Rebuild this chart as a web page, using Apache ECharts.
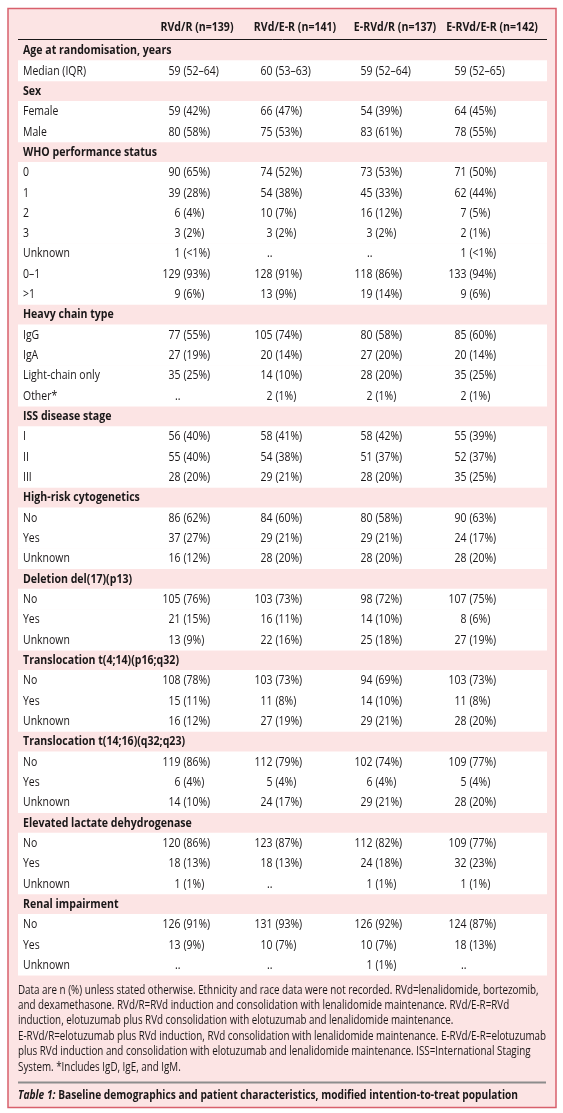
<!DOCTYPE html>
<html><head><meta charset="utf-8">
<script src="https://cdn.jsdelivr.net/npm/echarts@6/dist/echarts.min.js"></script>
<style>html,body{margin:0;padding:0;background:#fff}#c{width:563px;height:1113px}</style>
</head><body><div id="c"></div>
<script>
// ---------- data ----------
const columns = ['RVd/R (n=139)', 'RVd/E-R (n=141)', 'E-RVd/R (n=137)', 'E-RVd/E-R (n=142)'];
const rowLabels = [
  'Age at randomisation, years', 'Median (IQR)',
  'Sex', 'Female', 'Male',
  'WHO performance status', '0', '1', '2', '3', 'Unknown', '0–1', '>1',
  'Heavy chain type', 'IgG', 'IgA', 'Light-chain only', 'Other*',
  'ISS disease stage', 'I', 'II', 'III',
  'High-risk cytogenetics', 'No', 'Yes', 'Unknown',
  'Deletion del(17)(p13)', 'No', 'Yes', 'Unknown',
  'Translocation t(4;14)(p16;q32)', 'No', 'Yes', 'Unknown',
  'Translocation t(14;16)(q32;q23)', 'No', 'Yes', 'Unknown',
  'Elevated lactate dehydrogenase', 'No', 'Yes', 'Unknown',
  'Renal impairment', 'No', 'Yes', 'Unknown'
];
const rowKinds = [
  's','d',
  's','d','d',
  's','d','d','d','d','d','d','d',
  's','d','d','d','d',
  's','d','d','d',
  's','d','d','d',
  's','d','d','d',
  's','d','d','d',
  's','d','d','d',
  's','d','d','d',
  's','d','d','d'
];
const rvdR = [
  null,'59 (52–64)',
  null,'59 (42%)','80 (58%)',
  null,'90 (65%)','39 (28%)','6 (4%)','3 (2%)','1 (<1%)','129 (93%)','9 (6%)',
  null,'77 (55%)','27 (19%)','35 (25%)','..',
  null,'56 (40%)','55 (40%)','28 (20%)',
  null,'86 (62%)','37 (27%)','16 (12%)',
  null,'105 (76%)','21 (15%)','13 (9%)',
  null,'108 (78%)','15 (11%)','16 (12%)',
  null,'119 (86%)','6 (4%)','14 (10%)',
  null,'120 (86%)','18 (13%)','1 (1%)',
  null,'126 (91%)','13 (9%)','..'
];
const rvdER = [
  null,'60 (53–63)',
  null,'66 (47%)','75 (53%)',
  null,'74 (52%)','54 (38%)','10 (7%)','3 (2%)','..','128 (91%)','13 (9%)',
  null,'105 (74%)','20 (14%)','14 (10%)','2 (1%)',
  null,'58 (41%)','54 (38%)','29 (21%)',
  null,'84 (60%)','29 (21%)','28 (20%)',
  null,'103 (73%)','16 (11%)','22 (16%)',
  null,'103 (73%)','11 (8%)','27 (19%)',
  null,'112 (79%)','5 (4%)','24 (17%)',
  null,'123 (87%)','18 (13%)','..',
  null,'131 (93%)','10 (7%)','..'
];
const ervdR = [
  null,'59 (52–64)',
  null,'54 (39%)','83 (61%)',
  null,'73 (53%)','45 (33%)','16 (12%)','3 (2%)','..','118 (86%)','19 (14%)',
  null,'80 (58%)','27 (20%)','28 (20%)','2 (1%)',
  null,'58 (42%)','51 (37%)','28 (20%)',
  null,'80 (58%)','29 (21%)','28 (20%)',
  null,'98 (72%)','14 (10%)','25 (18%)',
  null,'94 (69%)','14 (10%)','29 (21%)',
  null,'102 (74%)','6 (4%)','29 (21%)',
  null,'112 (82%)','24 (18%)','1 (1%)',
  null,'126 (92%)','10 (7%)','1 (1%)'
];
const ervdER = [
  null,'59 (52–65)',
  null,'64 (45%)','78 (55%)',
  null,'71 (50%)','62 (44%)','7 (5%)','2 (1%)','1 (<1%)','133 (94%)','9 (6%)',
  null,'85 (60%)','20 (14%)','35 (25%)','2 (1%)',
  null,'55 (39%)','52 (37%)','35 (25%)',
  null,'90 (63%)','24 (17%)','28 (20%)',
  null,'107 (75%)','8 (6%)','27 (19%)',
  null,'103 (73%)','11 (8%)','28 (20%)',
  null,'109 (77%)','5 (4%)','28 (20%)',
  null,'109 (77%)','32 (23%)','1 (1%)',
  null,'124 (87%)','18 (13%)','..'
];
const footnoteLines = [
  'Data are n (%) unless stated otherwise. Ethnicity and race data were not recorded. RVd=lenalidomide, bortezomib,',
  'and dexamethasone. RVd/R=RVd induction and consolidation with lenalidomide maintenance. RVd/E-R=RVd',
  'induction, elotuzumab plus RVd consolidation with elotuzumab and lenalidomide maintenance.',
  'E-RVd/R=elotuzumab plus RVd induction, RVd consolidation with lenalidomide maintenance. E-RVd/E-R=elotuzumab',
  'plus RVd induction and consolidation with elotuzumab and lenalidomide maintenance. ISS=International Staging',
  'System. *Includes IgD, IgE, and IgM.'
];
const captionLabel = 'Table 1:';
const captionText = 'Baseline demographics and patient characteristics, modified intention-to-treat population';

// ---------- layout / style ----------
const colValues = [rvdR, rvdER, ervdR, ervdER];
const FONT = '"Open Sans", "Noto Sans", sans-serif';
const FS = 12.5;
const FS_NOTE = 11.8;
const INK = '#1a1718';
const PINK = '#fce4e4';
const FRAME = '#d8606c';
const GRID_W = 529;
const LABEL_PAD = 5;
const VALUE_ANCHOR = [164, 256, 356, 450];
const HEADER_CENTER = [179, 277, 377, 474];

// horizontal condensing so the humanist font matches the narrow print face
const mctx = document.createElement('canvas').getContext('2d');
function textW(t, f) { mctx.font = f; return mctx.measureText(t).width; }
const REG = FS + 'px ' + FONT, BOLD = 'bold ' + FS + 'px ' + FONT;
const SX = 63 / textW('Median (IQR)', REG);
const SXB = 73 / textW('RVd/R (n=139)', BOLD);
const NOTE_F = FS_NOTE + 'px ' + FONT;
const SXN = 528 / textW(footnoteLines[3], NOTE_F);
const SXC = 500 / (textW(captionLabel + ' ', 'italic ' + BOLD) + textW(captionText, BOLD));

function renderRow(params, api) {
  const idx = api.value(1);
  const p = api.coord([0, idx]);
  const h = api.size([0, 1])[1];
  const cs = params.coordSys;
  const section = rowKinds[idx] === 's';
  const children = [];
  if (!section) {
    children.push({type: 'rect', shape: {x: cs.x, y: p[1] - h / 2, width: cs.width, height: h + 0.6},
      style: {fill: '#ffffff'}, z2: 0});
  }
  children.push({type: 'text', x: cs.x + LABEL_PAD, y: p[1] + 0.5, z2: 2, scaleX: section ? SXB : SX,
    style: {text: rowLabels[idx], font: section ? BOLD : REG,
      fill: INK, align: 'left', verticalAlign: 'middle'}});
  if (!section) {
    for (let c = 0; c < colValues.length; c++) {
      const v = colValues[c][idx];
      if (v == null) continue;
      const sp = v.indexOf(' ');
      const num = sp < 0 ? v : v.slice(0, sp);
      const rest = sp < 0 ? '' : v.slice(sp + 1);
      const ax = api.coord([VALUE_ANCHOR[c], idx])[0];
      children.push({type: 'text', x: ax - 1.6, y: p[1] + 0.5, z2: 2, scaleX: SX,
        style: {text: num, font: REG, fill: INK, align: 'right', verticalAlign: 'middle'}});
      if (rest) children.push({type: 'text', x: ax + 1.4, y: p[1] + 0.5, z2: 2, scaleX: SX,
        style: {text: rest, font: REG, fill: INK, align: 'left', verticalAlign: 'middle'}});
    }
  }
  return {type: 'group', children};
}

function renderHeader(params, api) {
  const p = api.coord([0, 0]);
  const h = api.size([0, 1])[1];
  const cs = params.coordSys;
  const top = p[1] - h / 2;
  const children = [{type: 'line', shape: {x1: cs.x, y1: top - 0.5, x2: cs.x + cs.width, y2: top - 0.5},
    style: {stroke: INK, lineWidth: 1}}];
  columns.forEach((name, c) => {
    children.push({type: 'text', x: api.coord([HEADER_CENTER[c], 0])[0], y: top - 12.5, scaleX: SXB,
      style: {text: name, font: BOLD, fill: INK, align: 'center', verticalAlign: 'middle'}});
  });
  return {type: 'group', children};
}

const chart = echarts.init(document.getElementById('c'), null, {renderer: 'canvas'});
chart.setOption({
  backgroundColor: '#ffffff',
  animation: false,
  grid: {left: 18, top: 40, width: GRID_W, height: 935},
  xAxis: {type: 'value', min: 0, max: GRID_W, show: false},
  yAxis: {type: 'category', data: rowLabels.map((l, i) => i + ':' + l), inverse: true, show: false},
  graphic: [
    {type: 'rect', z: -10, shape: {x: 8, y: 8.5, width: 548, height: 1099},
      style: {fill: PINK, stroke: FRAME, lineWidth: 1.5}},
    {type: 'text', x: 18, y: 982.5, scaleX: SXN,
      style: {text: footnoteLines.join('\n'), font: NOTE_F, lineHeight: 15.4, fill: INK,
        verticalAlign: 'top'}},
    {type: 'line', shape: {x1: 18, y1: 1082.5, x2: 546, y2: 1082.5}, style: {stroke: '#8c8c8c', lineWidth: 2}},
    {type: 'text', x: 18, y: 1095, scaleX: SXC,
      style: {text: '{i|' + captionLabel + '} {b|' + captionText + '}', fill: INK, verticalAlign: 'middle',
        rich: {i: {font: 'italic ' + BOLD, fill: INK},
               b: {font: BOLD, fill: INK}}}}
  ],
  series: [
    {type: 'custom', name: 'rows', renderItem: renderRow, silent: true, clip: false,
      data: rowLabels.map((l, i) => [0, i])},
    {type: 'custom', name: 'header', renderItem: renderHeader, silent: true, clip: false,
      data: [[0, 0]]}
  ]
});
</script></body></html>
